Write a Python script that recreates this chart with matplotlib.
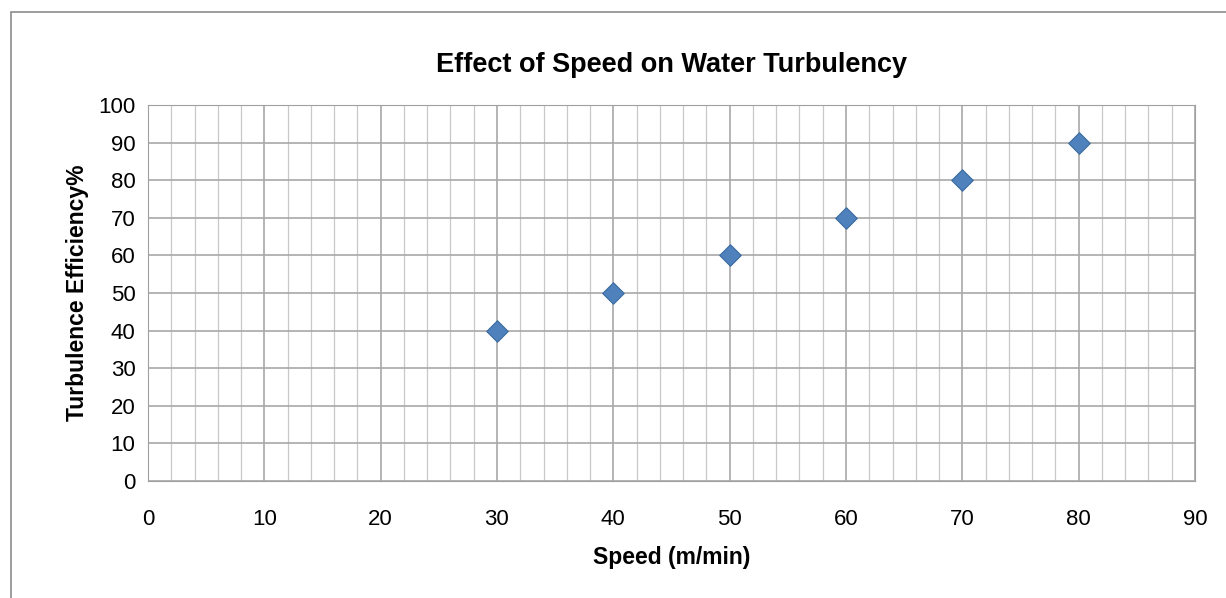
import numpy as np
import matplotlib.pyplot as plt
from matplotlib.patches import Rectangle

speed = [30, 40, 50, 60, 70, 80]
efficiency = [40, 50, 60, 70, 80, 90]

plt.rcParams['font.family'] = ['Liberation Sans', 'DejaVu Sans']

fig = plt.figure(figsize=(12.26, 5.98), dpi=100)
ax = fig.add_axes([0.1207, 0.1957, 0.8540, 0.6287])

# outer chart border
fig.patches.append(Rectangle((0.009, -0.01), 1.0, 0.99, transform=fig.transFigure,
                             fill=False, edgecolor='#8c8c8c', linewidth=1.2))

ax.scatter(speed, efficiency, marker='D', s=120, color='#4F81BD',
           edgecolor='#3b6aa0', linewidth=0.8, zorder=3)

ax.set_xlim(0, 90)
ax.set_ylim(0, 100)
ax.set_xticks(np.arange(0, 91, 10))
ax.set_yticks(np.arange(0, 101, 10))
ax.set_xticks(np.arange(0, 91, 2), minor=True)
ax.grid(which='major', color='#a8a8a8', linewidth=1.2)
ax.grid(which='minor', axis='x', color='#c8c8c8', linewidth=0.9)
ax.set_axisbelow(True)
ax.tick_params(which='both', length=0, labelsize=16)
ax.tick_params(axis='x', pad=20)
ax.tick_params(axis='y', pad=9)
for s in ax.spines.values():
    s.set_color('#a0a0a0')

ax.set_title('Effect of Speed on Water Turbulency', fontsize=19.5, fontweight='bold', pad=24)
ax.set_xlabel('Speed (m/min)', fontsize=16.5, fontweight='bold', labelpad=12)
ax.set_ylabel('Turbulence Efficiency%', fontsize=16.5, fontweight='bold', labelpad=7)

fig.savefig('out.png', dpi=100)
